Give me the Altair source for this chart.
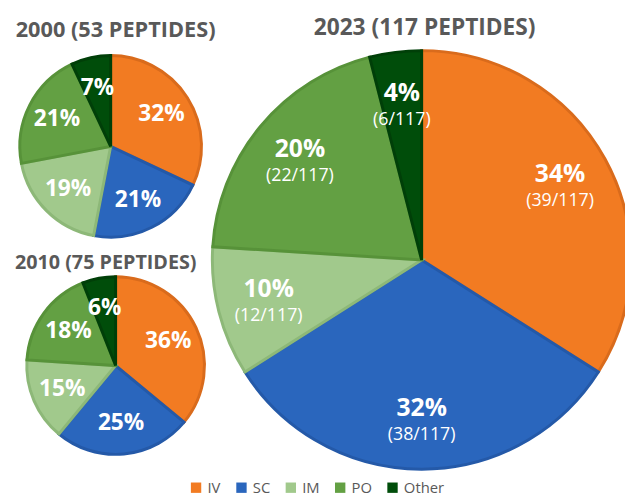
import altair as alt
import pandas as pd

categories = ["IV", "SC", "IM", "PO", "Other"]
colors = ["#F27B22", "#2A66BD", "#A1C98C", "#63A043", "#004D0A"]
edge_colors = ["#D96B1C", "#2459A8", "#8DB878", "#579239", "#003F08"]

pct_2000 = [32, 21, 19, 21, 7]
pct_2010 = [36, 25, 15, 18, 6]
pct_2023 = [34, 32, 10, 20, 4]
n_2023 = [39, 38, 12, 22, 6]
total_2023 = 117

titles = ["2000 (53 PEPTIDES)", "2010 (75 PEPTIDES)", "2023 (117 PEPTIDES)"]

rows = []
for i, c in enumerate(categories):
    rows.append(dict(year="2000", cat=c, ord=i, value=pct_2000[i],
                     label=f"{pct_2000[i]}%", sub=""))
    rows.append(dict(year="2010", cat=c, ord=i, value=pct_2010[i],
                     label=f"{pct_2010[i]}%", sub=""))
    rows.append(dict(year="2023", cat=c, ord=i, value=pct_2023[i],
                     label=f"{pct_2023[i]}%",
                     sub=f"({n_2023[i]}/{total_2023})"))
df = pd.DataFrame(rows)

FONT = "Open Sans"
GRAY = "#595959"

color_scale = alt.Scale(domain=categories, range=colors)
stroke_scale = alt.Scale(domain=categories, range=edge_colors)

base = alt.Chart(df).transform_joinaggregate(
    tot="sum(value)", groupby=["year"]
).transform_calculate(frac="datum.value / datum.tot")


def pie(year, cx, cy, r, lr, fs, with_sub, show_legend):
    b = base.transform_filter(alt.datum.year == year)
    legend = None
    if show_legend:
        legend = alt.Legend(orient="none", direction="horizontal", legendX=183,
                            legendY=475, title=None, symbolType="square",
                            symbolSize=110, symbolStrokeWidth=0,
                            labelFontSize=15, labelColor=GRAY, labelFont=FONT,
                            columnPadding=13, padding=0, symbolOpacity=1)
    arc = b.mark_arc(strokeWidth=3).encode(
        theta=alt.Theta("frac:Q", stack=True),
        order=alt.Order("ord:Q"),
        color=alt.Color("cat:N", scale=color_scale, legend=legend),
        stroke=alt.Stroke("cat:N", scale=stroke_scale, legend=None),
        x=alt.value(cx), y=alt.value(cy), radius=alt.value(r),
    )
    layers = [arc]
    txt = b.mark_text(color="white", font=FONT, fontWeight="bold", fontSize=fs,
                      baseline="middle", dy=(-10 if with_sub else 0)).encode(
        theta=alt.Theta("frac:Q", stack=True),
        order=alt.Order("ord:Q"),
        text="label:N",
        x=alt.value(cx), y=alt.value(cy), radius=alt.value(lr),
    )
    layers.append(txt)
    if with_sub:
        sub = b.mark_text(color="white", font=FONT, fontSize=18,
                          baseline="middle", dy=17).encode(
            theta=alt.Theta("frac:Q", stack=True),
            order=alt.Order("ord:Q"),
            text="sub:N",
            x=alt.value(cx), y=alt.value(cy), radius=alt.value(lr),
        )
        layers.append(sub)
    return layers


def title(i, x, y, fs):
    return alt.Chart(pd.DataFrame({"t": [titles[i]]})).mark_text(
        font=FONT, fontWeight="bold", fontSize=fs, color=GRAY,
        baseline="middle", align="center").encode(
        text="t:N", x=alt.value(x), y=alt.value(y))


layers = []
layers += pie("2000", 104, 137, 92, 61, 23, False, True)
layers += pie("2010", 109, 359, 90, 59, 23, False, False)
layers += pie("2023", 419, 252, 212, 160, 25, True, False)
layers += [title(0, 109, 19, 22), title(1, 99, 255, 20), title(2, 422, 17, 23)]

chart = alt.layer(*layers).properties(
    width=625, height=488, padding=0, autosize="none", background="white"
).configure_view(stroke=None)

chart.save("out.html", embed_options={"renderer": "svg", "actions": False})
